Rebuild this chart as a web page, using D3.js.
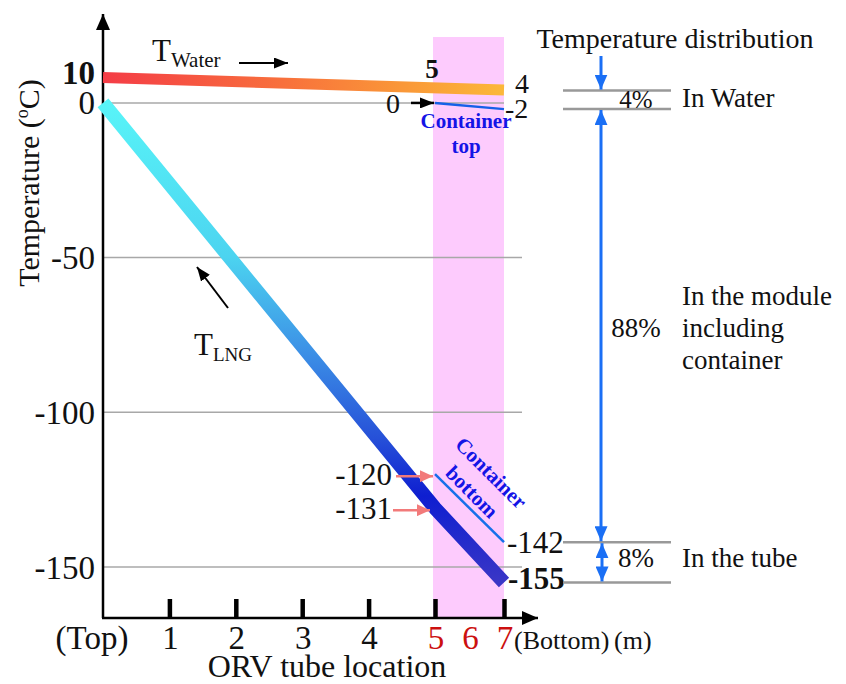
<!DOCTYPE html>
<html><head><meta charset="utf-8">
<script src="https://cdn.jsdelivr.net/npm/d3@7"></script>
<style>
body{margin:0;background:#fff}
svg{display:block}
text{font-family:"Liberation Serif","Times New Roman",serif;fill:#111}
</style>
</head><body>
<svg id="c" width="846" height="684"></svg>
<script>
// ---- data ----
const xTickValues = [0, 1, 2, 3, 4, 5, 6, 7];
const xTickLabels = ["(Top)", "1", "2", "3", "4", "5", "6", "7"];
const xTickMarks = [1, 2, 3, 4, 5, 7];
const yTickValues = [10, 0, -50, -100, -150];
const yTickLabels = ["10", "0", "-50", "-100", "-150"];
const yGridValues = [0, -50, -100, -150];
const waterLocation = [0, 7];
const waterTemp = [8.2, 4.2];
const lngLocation = [0, 5, 7];
const lngTemp = [0, -131, -155];
const containerTopLocation = [5, 7];
const containerTopTemp = [0, -2];
const containerBottomLocation = [5, 7];
const containerBottomTemp = [-120, -142];
const containerZone = [5, 7];
const distBounds = [4, -2, -142, -155];
const distShares = ["4%", "88%", "8%"];
const distLabels = [["In Water"], ["In the module", "including", "container"], ["In the tube"]];

// ---- scales ----
const x = d3.scaleLinear().domain([0, 5, 7]).range([103, 435, 504]);
const y = d3.scaleLinear().domain([-166.5, 10]).range([618, 72]);

const svg = d3.select("#c");
const defs = svg.append("defs");
function marker(id, color, w, l) {
  defs.append("marker").attr("id", id)
    .attr("viewBox", `0 0 ${l} ${w}`).attr("refX", l).attr("refY", w / 2)
    .attr("markerWidth", l).attr("markerHeight", w)
    .attr("markerUnits", "userSpaceOnUse").attr("orient", "auto-start-reverse")
    .append("path").attr("d", `M0,0L${l},${w / 2}L0,${w}Z`).attr("fill", color);
}
marker("ablack", "#000", 11, 14);
marker("aaxis", "#000", 14, 16);
marker("apink", "#f27a7a", 12, 13);
marker("ablue", "#1a6ff5", 13, 15);

// gradients
const gw = defs.append("linearGradient").attr("id", "gWater").attr("gradientUnits", "userSpaceOnUse")
  .attr("x1", x(0)).attr("x2", x(7)).attr("y1", 0).attr("y2", 0);
[[0, "#f43c46"], [0.45, "#f8703c"], [0.75, "#fa9838"], [1, "#fbb83a"]].forEach(s =>
  gw.append("stop").attr("offset", s[0]).attr("stop-color", s[1]));
const gl = defs.append("linearGradient").attr("id", "gLng").attr("gradientUnits", "userSpaceOnUse")
  .attr("x1", 0).attr("x2", 0).attr("y1", y(0)).attr("y2", y(-155));
[[0, "#58f4f8"], [0.32, "#4cd4f0"], [0.52, "#3c90e6"], [0.7, "#2650d8"], [0.82, "#0e1ed0"], [1, "#3a36c6"]].forEach(s =>
  gl.append("stop").attr("offset", s[0]).attr("stop-color", s[1]));

// pink container zone
svg.append("rect").attr("x", x(containerZone[0]) - 2).attr("y", 37)
  .attr("width", x(containerZone[1]) - x(containerZone[0]) + 2).attr("height", 618 - 37)
  .attr("fill", "#fdcbfd");

// grid lines
svg.append("g").selectAll("line").data(yGridValues).join("line")
  .attr("x1", x(0)).attr("x2", d => d === 0 ? x(7) : 522)
  .attr("y1", d => y(d)).attr("y2", d => y(d))
  .attr("stroke", "#a8a8a8").attr("stroke-width", 1.5);

// x tick marks
const xAxis = svg.append("g").attr("transform", "translate(0,618)")
  .call(d3.axisTop(x).tickValues(xTickMarks).tickSize(19).tickFormat(""));
xAxis.select(".domain").remove();
xAxis.selectAll("line").attr("stroke", "#000").attr("stroke-width", 4.5);

// axes lines
svg.append("line").attr("x1", x(0)).attr("x2", x(0)).attr("y1", 618).attr("y2", 14)
  .attr("stroke", "#000").attr("stroke-width", 2.5).attr("marker-end", "url(#aaxis)");
svg.append("line").attr("x1", x(0) - 1).attr("x2", 538).attr("y1", 618).attr("y2", 618)
  .attr("stroke", "#000").attr("stroke-width", 2.5).attr("marker-end", "url(#aaxis)");

// water band
const line = d3.line().x(d => x(d[0])).y(d => y(d[1]));
svg.append("path").attr("d", line(waterLocation.map((l, i) => [l, waterTemp[i]])))
  .attr("fill", "none").attr("stroke", "url(#gWater)").attr("stroke-width", 11);

// LNG band
svg.append("path").attr("d", line(lngLocation.map((l, i) => [l, lngTemp[i]])))
  .attr("fill", "none").attr("stroke", "url(#gLng)").attr("stroke-width", 14)
  .attr("stroke-linejoin", "round");

// container lines
svg.append("path").attr("d", line(containerTopLocation.map((l, i) => [l, containerTopTemp[i]])))
  .attr("fill", "none").attr("stroke", "#1560e8").attr("stroke-width", 2.5);
svg.append("path").attr("d", line(containerBottomLocation.map((l, i) => [l, containerBottomTemp[i]])))
  .attr("fill", "none").attr("stroke", "#1670ea").attr("stroke-width", 2.5);

// y tick labels
svg.append("g").selectAll("text").data(yTickValues).join("text")
  .attr("x", 95).attr("y", d => y(d)).attr("dy", "0.35em")
  .attr("text-anchor", "end").attr("font-size", 33)
  .attr("font-weight", d => d === 10 ? "bold" : "normal")
  .text((d, i) => yTickLabels[i]);

// y title
const yt = svg.append("text").attr("transform", "translate(39,183) rotate(-90)")
  .attr("text-anchor", "middle").attr("font-size", 30);
yt.append("tspan").text("Temperature (");
yt.append("tspan").attr("font-size", 18).attr("dy", -11).text("o");
yt.append("tspan").attr("dy", 11).text("C)");

// x tick labels
svg.append("g").selectAll("text").data(xTickValues).join("text")
  .attr("x", d => d === 0 ? x(d) - 11 : x(d) + 1).attr("y", 649)
  .attr("text-anchor", "middle").attr("font-size", 33)
  .style("fill", d => d >= 5 ? "#cc1010" : "#111")
  .text((d, i) => xTickLabels[i]);
svg.append("text").attr("x", 514).attr("y", 649).attr("font-size", 26).text("(Bottom)");
svg.append("text").attr("x", 614).attr("y", 649).attr("font-size", 26).text("(m)");
svg.append("text").attr("x", 327).attr("y", 677).attr("text-anchor", "middle").attr("font-size", 32).text("ORV tube location");

// T_Water label
const tw = svg.append("text").attr("x", 152).attr("y", 61).attr("font-size", 31);
tw.append("tspan").text("T");
tw.append("tspan").attr("font-size", 21).attr("dy", 6).text("Water");
svg.append("line").attr("x1", 239).attr("x2", 288).attr("y1", 63).attr("y2", 63)
  .attr("stroke", "#000").attr("stroke-width", 2).attr("marker-end", "url(#ablack)");

// T_LNG label
const tl = svg.append("text").attr("x", 194).attr("y", 355).attr("font-size", 31);
tl.append("tspan").text("T");
tl.append("tspan").attr("font-size", 19).attr("dy", 6).text("LNG");
svg.append("line").attr("x1", 228).attr("y1", 308).attr("x2", 197).attr("y2", 267)
  .attr("stroke", "#000").attr("stroke-width", 2).attr("marker-end", "url(#ablack)");

// annotations around the container zone
svg.append("text").attr("x", x(5) - 3).attr("y", 78).attr("text-anchor", "middle")
  .attr("font-size", 27).attr("font-weight", "bold").text("5");
svg.append("text").attr("x", x(7) + 11).attr("y", y(waterTemp[1]) + 3).attr("font-size", 28).text("4");
svg.append("text").attr("x", x(7) + 1).attr("y", y(containerTopTemp[1]) + 9).attr("font-size", 28).text("-2");
svg.append("text").attr("x", 393).attr("y", y(0) + 10).attr("text-anchor", "middle").attr("font-size", 28).text("0");
svg.append("line").attr("x1", 411).attr("x2", x(5) - 1).attr("y1", y(0)).attr("y2", y(0))
  .attr("stroke", "#000").attr("stroke-width", 2.5).attr("marker-end", "url(#ablack)");

svg.append("text").attr("x", 392).attr("y", y(containerBottomTemp[0])).attr("dy", "0.35em")
  .attr("text-anchor", "end").attr("font-size", 31).text("-120");
svg.append("line").attr("x1", 396).attr("x2", x(5) - 2).attr("y1", y(-120) + 2).attr("y2", y(-120) + 2)
  .attr("stroke", "#f27a7a").attr("stroke-width", 2.5).attr("marker-end", "url(#apink)");
svg.append("text").attr("x", 392).attr("y", y(lngTemp[1])).attr("dy", "0.35em")
  .attr("text-anchor", "end").attr("font-size", 31).text("-131");
svg.append("line").attr("x1", 393).attr("x2", x(5) - 5).attr("y1", y(-131) + 2).attr("y2", y(-131) + 2)
  .attr("stroke", "#f27a7a").attr("stroke-width", 2.5).attr("marker-end", "url(#apink)");
svg.append("text").attr("x", x(7) + 3).attr("y", y(containerBottomTemp[1])).attr("dy", "0.35em")
  .attr("font-size", 31).text("-142");
svg.append("text").attr("x", x(7) + 4).attr("y", y(lngTemp[2]) - 4).attr("dy", "0.35em")
  .attr("font-size", 31).attr("font-weight", "bold").text("-155");

// container labels
const ct = svg.append("g").attr("text-anchor", "middle").attr("font-size", 21).attr("font-weight", "bold");
ct.append("text").attr("x", 466).attr("y", 128).style("fill", "#1414e6").text("Container");
ct.append("text").attr("x", 466).attr("y", 153).style("fill", "#1414e6").text("top");
const cb = svg.append("g").attr("transform", "translate(491,473) rotate(45)")
  .attr("text-anchor", "middle").attr("font-size", 21).attr("font-weight", "bold");
cb.append("text").attr("y", 7).style("fill", "#1414e6").text("Container");
cb.append("text").attr("y", 34).style("fill", "#1414e6").text("bottom");

// temperature distribution panel
svg.append("text").attr("x", 675).attr("y", 48).attr("text-anchor", "middle").attr("font-size", 28)
  .text("Temperature distribution");
svg.append("g").selectAll("line").data(distBounds).join("line")
  .attr("x1", 563).attr("x2", 671).attr("y1", d => y(d)).attr("y2", d => y(d))
  .attr("stroke", "#999").attr("stroke-width", 2.5);
const bx = 601;
svg.append("line").attr("x1", bx).attr("x2", bx).attr("y1", 56).attr("y2", y(distBounds[0]) - 1)
  .attr("stroke", "#1a6ff5").attr("stroke-width", 3).attr("marker-end", "url(#ablue)");
svg.append("line").attr("x1", bx).attr("x2", bx).attr("y1", y(distBounds[1]) + 1).attr("y2", y(distBounds[2]) - 1)
  .attr("stroke", "#1a6ff5").attr("stroke-width", 3)
  .attr("marker-start", "url(#ablue)").attr("marker-end", "url(#ablue)");
svg.append("line").attr("x1", bx + 1).attr("x2", bx + 1).attr("y1", y(distBounds[2]) + 1).attr("y2", y(distBounds[3]) - 1)
  .attr("stroke", "#1a6ff5").attr("stroke-width", 3)
  .attr("marker-start", "url(#ablue)").attr("marker-end", "url(#ablue)");

svg.append("text").attr("x", 636).attr("y", 108).attr("text-anchor", "middle").attr("font-size", 25).text(distShares[0]);
svg.append("text").attr("x", 636).attr("y", 337).attr("text-anchor", "middle").attr("font-size", 27).text(distShares[1]);
svg.append("text").attr("x", 636).attr("y", 567).attr("text-anchor", "middle").attr("font-size", 27).text(distShares[2]);

const labelBase = [107, 305, 567];
distLabels.forEach((lines, i) => {
  lines.forEach((t, j) => {
    svg.append("text").attr("x", 682).attr("y", labelBase[i] + j * 32).attr("font-size", 27).text(t);
  });
});
</script>
</body></html>
